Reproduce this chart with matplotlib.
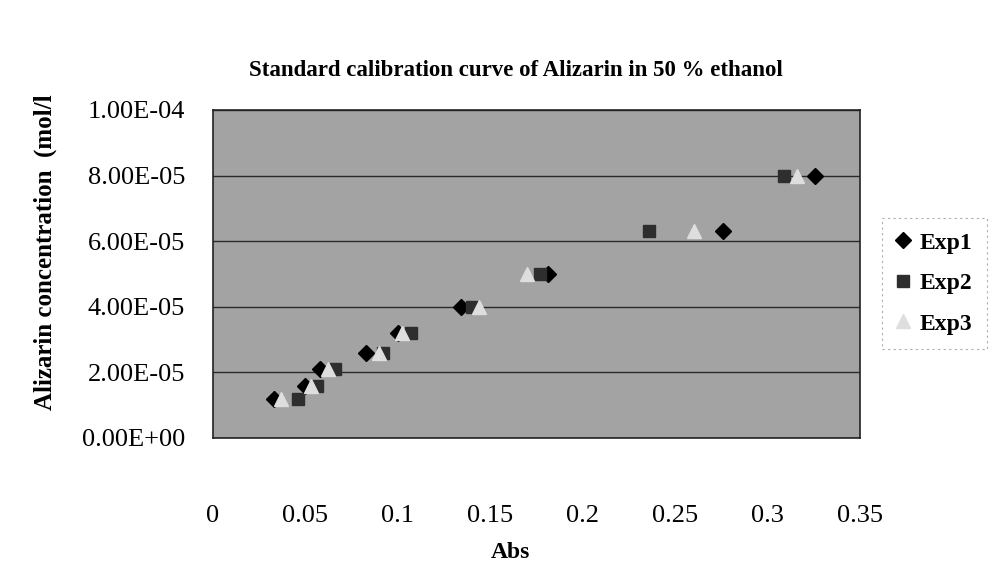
import matplotlib
matplotlib.use("Agg")
import matplotlib.pyplot as plt
from matplotlib.ticker import FixedLocator

# standard concentrations (mol/l) and measured absorbance per experiment
conc = [1.2e-5, 1.6e-5, 2.1e-5, 2.6e-5, 3.2e-5, 4.0e-5, 5.0e-5, 6.3e-5, 8.0e-5]
abs_exp1 = [0.033, 0.050, 0.058, 0.083, 0.100, 0.134, 0.181, 0.276, 0.3255]
abs_exp2 = [0.046, 0.056, 0.066, 0.092, 0.107, 0.140, 0.177, 0.236, 0.309]
abs_exp3 = [0.037, 0.053, 0.062, 0.090, 0.102, 0.144, 0.170, 0.260, 0.316]

x_ticks = [0, 0.05, 0.1, 0.15, 0.2, 0.25, 0.3, 0.35]
x_labels = ["0", "0.05", "0.1", "0.15", "0.2", "0.25", "0.3", "0.35"]
y_ticks = [0, 2e-5, 4e-5, 6e-5, 8e-5, 1e-4]
y_labels = ["0.00E+00", "2.00E-05", "4.00E-05", "6.00E-05", "8.00E-05", "1.00E-04"]

plt.rcParams['font.family'] = ['Liberation Serif', 'DejaVu Serif']

W, H = 993, 569
fig = plt.figure(figsize=(W / 100, H / 100), dpi=100)
ax = fig.add_axes([213 / W, 1 - 438 / H, (860 - 213) / W, (438 - 110) / H])
ax.set_facecolor('#a3a3a3')

ax.set_xlim(0, 0.35)
ax.set_ylim(0, 1e-4)
ax.xaxis.set_major_locator(FixedLocator(x_ticks))
ax.set_xticklabels(x_labels)
ax.yaxis.set_major_locator(FixedLocator(y_ticks))
ax.set_yticklabels(y_labels)
ax.tick_params(axis='x', length=0, pad=48, labelsize=19)
ax.tick_params(axis='y', length=0, pad=20, labelsize=19)
ax.grid(axis='y', color='#2a2a2a', linewidth=1.0)
ax.set_axisbelow(True)
for sp in ax.spines.values():
    sp.set_color('#222222')
    sp.set_linewidth(1.2)

ax.plot(abs_exp1, conc, linestyle='none', marker='D', ms=8.5, color='black', label='Exp1', zorder=3)
ax.plot(abs_exp2, conc, linestyle='none', marker='s', ms=8, color='#2e2e2e', label='Exp2', zorder=3)
ax.plot(abs_exp3, conc, linestyle='none', marker='^', ms=9.5, color='#dedede', label='Exp3', zorder=3)

leg = fig.legend(loc='upper left', bbox_to_anchor=(882 / W, 1 - 218 / H), borderaxespad=0,
                 frameon=True, fancybox=False, handlelength=0.6, handletextpad=0.4,
                 labelspacing=0.8, borderpad=0.6, prop={'weight': 'bold', 'size': 17})
leg.get_frame().set_edgecolor('#999999')
leg.get_frame().set_linestyle((0, (2, 3)))
leg.get_frame().set_linewidth(0.8)

fig.text(516 / W, 1 - 70 / H, "Standard calibration curve of Alizarin in 50 % ethanol",
         ha='center', va='center', fontsize=16.5, fontweight='bold')
fig.text(45 / W, 1 - 252 / H, "Alizarin concentration  (mol/l",
         ha='center', va='center', rotation=90, fontsize=18, fontweight='bold')
fig.text(510 / W, 1 - 552 / H, "Abs", ha='center', va='center', fontsize=17, fontweight='bold')

fig.savefig('out.png', dpi=100)
